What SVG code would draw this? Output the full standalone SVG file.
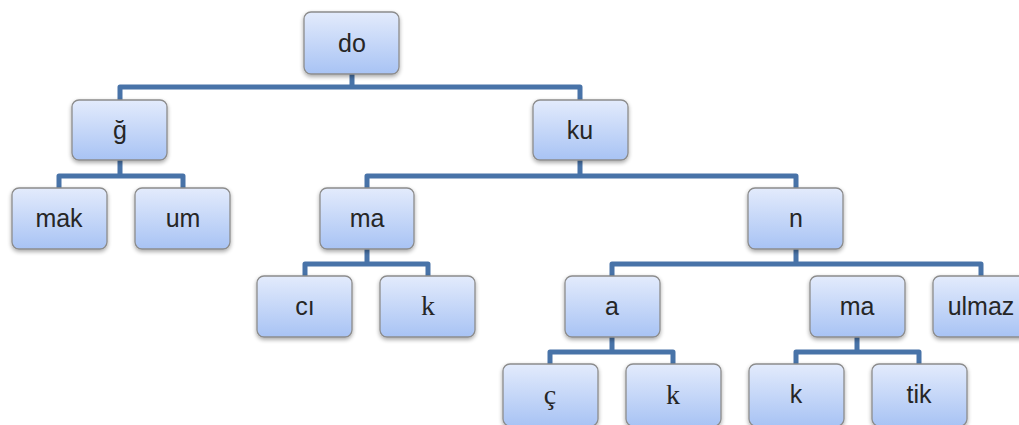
<svg xmlns="http://www.w3.org/2000/svg" width="1019" height="425" viewBox="0 0 1019 425">
  <style>
    .box { fill: url(#boxFill); stroke: #8c8c8c; stroke-width: 1.3; filter: url(#shadow); }
    .lbl { font-family: "Liberation Sans", Arial, sans-serif; font-size: 25px; fill: #262626; text-anchor: middle; }
    .serif { font-family: "Liberation Serif", "Times New Roman", serif; font-size: 28px; }
    .link { fill: none; stroke: #4873a8; stroke-width: 5; stroke-linejoin: round; }
  </style>
  <defs>
    <linearGradient id="boxFill" x1="0" y1="0" x2="0" y2="1">
      <stop offset="0" stop-color="#e3ebfc"/>
      <stop offset="1" stop-color="#a8c3f4"/>
    </linearGradient>
    <filter id="shadow" x="-20%" y="-20%" width="140%" height="150%">
      <feGaussianBlur in="SourceAlpha" stdDeviation="2"/>
      <feOffset dx="0" dy="2" result="b"/>
      <feComponentTransfer><feFuncA type="linear" slope="0.35"/></feComponentTransfer>
      <feMerge><feMergeNode/><feMergeNode in="SourceGraphic"/></feMerge>
    </filter>
  </defs>

  <g id="connectors">
    <path class="link" d="M352 74 V87 M120 100 V87 H580 V100"/>
    <path class="link" d="M120 160 V176 M59 188 V176 H183 V188"/>
    <path class="link" d="M580 160 V176 M367 188 V176 H796 V188"/>
    <path class="link" d="M367 249 V264 M305 276 V264 H428 V276"/>
    <path class="link" d="M796 249 V264 M612 276 V264 H981 V276"/>
    <path class="link" d="M612 337 V352 M550 364 V352 H673 V364"/>
    <path class="link" d="M857 337 V352 M796 364 V352 H919 V364"/>
  </g>

  <g id="n-do"><rect class="box" x="304" y="12" width="95" height="62" rx="7"/><text class="lbl" x="352" y="52">do</text></g>
  <g id="n-g"><rect class="box" x="72" y="100" width="95" height="60" rx="7"/><text class="lbl" x="120" y="139">ğ</text></g>
  <g id="n-ku"><rect class="box" x="533" y="100" width="95" height="60" rx="7"/><text class="lbl" x="580" y="139">ku</text></g>
  <g id="n-mak"><rect class="box" x="12" y="188" width="95" height="61" rx="7"/><text class="lbl" x="59" y="227">mak</text></g>
  <g id="n-um"><rect class="box" x="135" y="188" width="95" height="61" rx="7"/><text class="lbl" x="183" y="227">um</text></g>
  <g id="n-ma1"><rect class="box" x="320" y="188" width="94" height="61" rx="7"/><text class="lbl" x="367" y="227">ma</text></g>
  <g id="n-n"><rect class="box" x="748" y="188" width="95" height="61" rx="7"/><text class="lbl" x="796" y="227">n</text></g>
  <g id="n-ci"><rect class="box" x="257" y="276" width="95" height="61" rx="7"/><text class="lbl" x="305" y="315">cı</text></g>
  <g id="n-k1"><rect class="box" x="380" y="276" width="95" height="61" rx="7"/><text class="lbl serif" x="428" y="315">k</text></g>
  <g id="n-a"><rect class="box" x="565" y="276" width="95" height="61" rx="7"/><text class="lbl" x="612" y="315">a</text></g>
  <g id="n-ma2"><rect class="box" x="810" y="276" width="95" height="61" rx="7"/><text class="lbl" x="857" y="315">ma</text></g>
  <g id="n-ulmaz"><rect class="box" x="933" y="276" width="95" height="61" rx="7"/><text class="lbl" x="981" y="315">ulmaz</text></g>
  <g id="n-c"><rect class="box" x="503" y="364" width="95" height="62" rx="7"/><text class="lbl serif" x="550" y="404">ç</text></g>
  <g id="n-k2"><rect class="box" x="626" y="364" width="95" height="62" rx="7"/><text class="lbl serif" x="673" y="404">k</text></g>
  <g id="n-k3"><rect class="box" x="749" y="364" width="95" height="62" rx="7"/><text class="lbl" x="796" y="403">k</text></g>
  <g id="n-tik"><rect class="box" x="872" y="364" width="95" height="62" rx="7"/><text class="lbl" x="919" y="403">tik</text></g>
</svg>
